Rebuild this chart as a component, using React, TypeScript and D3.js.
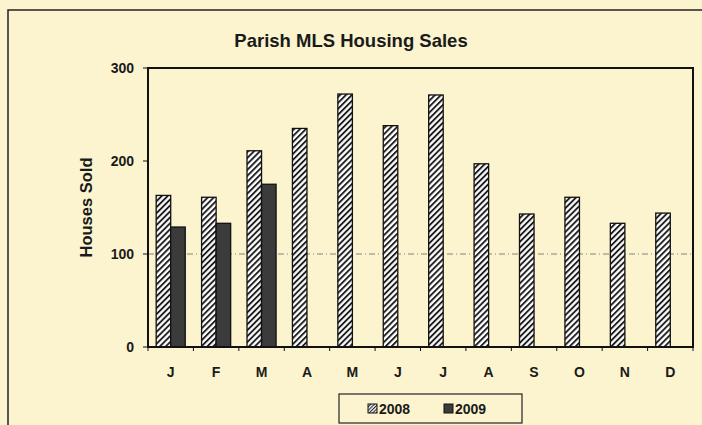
import * as d3 from 'd3';

const months = ['J', 'F', 'M', 'A', 'M2', 'J2', 'J3', 'A2', 'S', 'O', 'N', 'D'];
const monthLabels = ['J', 'F', 'M', 'A', 'M', 'J', 'J', 'A', 'S', 'O', 'N', 'D'];
const sales2008 = [163, 161, 211, 235, 272, 238, 271, 197, 143, 161, 133, 144];
const sales2009 = [129, 133, 175];
const seriesNames = ['2008', '2009'];
const yTicks = [0, 100, 200, 300];

const W = 702;
const H = 425;
const bg = '#fbf4cf';

export default function App(): JSX.Element {
  const left = 148;
  const right = 693;
  const top = 68;
  const bottom = 347;

  const x0 = d3
    .scaleBand<string>()
    .domain(months)
    .range([left, right])
    .paddingInner(0.36)
    .paddingOuter(0.18);
  const x1 = d3
    .scaleBand<string>()
    .domain(seriesNames)
    .range([0, x0.bandwidth()]);
  const y = d3.scaleLinear().domain([0, 300]).range([bottom, top]);

  const step = x0.step();
  const edges = d3.range(months.length + 1).map((i) => left + i * step);

  const bars2008 = sales2008.map((v, i) => (
    <rect
      key={'a' + i}
      x={(x0(months[i]) as number) + (x1('2008') as number)}
      y={y(v)}
      width={x1.bandwidth()}
      height={y(0) - y(v)}
      fill="url(#hatch)"
      stroke="#111"
      strokeWidth={1.3}
    />
  ));
  const bars2009 = sales2009.map((v, i) => (
    <rect
      key={'b' + i}
      x={(x0(months[i]) as number) + (x1('2009') as number)}
      y={y(v)}
      width={x1.bandwidth()}
      height={y(0) - y(v)}
      fill="#3b3b3b"
      stroke="#111"
      strokeWidth={1.3}
    />
  ));

  const font = 'Arial, "Liberation Sans", sans-serif';

  return (
    <svg
      xmlns="http://www.w3.org/2000/svg"
      width={W}
      height={H}
      style={{ position: 'absolute', left: 0, top: 0 }}
      fontFamily={font}
    >
      <defs>
        <pattern
          id="hatch"
          width={4.2}
          height={4.2}
          patternUnits="userSpaceOnUse"
          patternTransform="rotate(45)"
        >
          <rect width={4.2} height={4.2} fill="#fff" />
          <line x1={1} y1={0} x2={1} y2={4.2} stroke="#111" strokeWidth={1.8} />
        </pattern>
        <pattern
          id="hatchSmall"
          width={2.5}
          height={2.5}
          patternUnits="userSpaceOnUse"
          patternTransform="rotate(45)"
        >
          <rect width={2.5} height={2.5} fill="#fff" />
          <line x1={0.6} y1={0} x2={0.6} y2={2.5} stroke="#111" strokeWidth={1} />
        </pattern>
      </defs>
      <rect width={W} height={H} fill={bg} />
      <rect x={8} y={10} width={720} height={440} fill="none" stroke="#222" strokeWidth={1.5} />

      <text
        x={351}
        y={47}
        textAnchor="middle"
        fontSize={18.5}
        fontWeight="bold"
        fill="#1a1a1a"
      >
        Parish MLS Housing Sales
      </text>

      <line
        x1={left}
        x2={right}
        y1={y(100)}
        y2={y(100)}
        stroke="#666"
        strokeWidth={0.8}
        strokeDasharray="6 3 1 3"
      />

      {bars2008}
      {bars2009}

      <rect
        x={left}
        y={top}
        width={right - left}
        height={bottom - top}
        fill="none"
        stroke="#111"
        strokeWidth={2}
      />

      {yTicks.map((t) => (
        <g key={t}>
          <line x1={left - 5} x2={left} y1={y(t)} y2={y(t)} stroke="#111" strokeWidth={1} />
          <text
            x={left - 14}
            y={y(t) + 5}
            textAnchor="end"
            fontSize={14}
            fontWeight="bold"
            fill="#1a1a1a"
          >
            {t}
          </text>
        </g>
      ))}

      {edges.map((e, i) => (
        <line key={i} x1={e} x2={e} y1={bottom} y2={bottom + 4} stroke="#111" strokeWidth={1} />
      ))}
      {months.map((m, i) => (
        <text
          key={m}
          x={(x0(m) as number) + x0.bandwidth() / 2}
          y={377}
          textAnchor="middle"
          fontSize={14}
          fontWeight="bold"
          fill="#1a1a1a"
        >
          {monthLabels[i]}
        </text>
      ))}

      <text
        transform={`translate(92,${(top + bottom) / 2}) rotate(-90)`}
        textAnchor="middle"
        fontSize={16.5}
        fontWeight="bold"
        fill="#1a1a1a"
      >
        Houses Sold
      </text>

      <rect x={339} y={394} width={183} height={29} fill="none" stroke="#222" strokeWidth={1.2} />
      <rect x={368} y={404} width={9} height={9} fill="url(#hatchSmall)" stroke="#111" strokeWidth={1} />
      <text x={379} y={414} fontSize={14} fontWeight="bold" fill="#1a1a1a">
        {seriesNames[0]}
      </text>
      <rect x={444} y={404} width={9} height={9} fill="#3b3b3b" stroke="#111" strokeWidth={1} />
      <text x={455} y={414} fontSize={14} fontWeight="bold" fill="#1a1a1a">
        {seriesNames[1]}
      </text>
    </svg>
  );
}
